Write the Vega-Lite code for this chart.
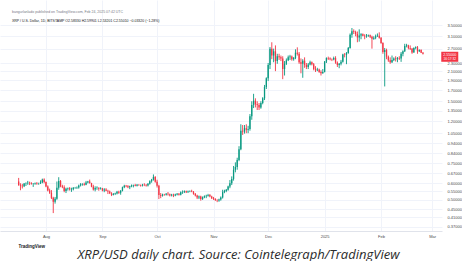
{
"$schema": "https://vega.github.io/schema/vega-lite/v6.json",
"width": 442, "height": 231, "padding": 0, "background": "white",
"config": {"view": {"stroke": null}, "font": "Liberation Sans"},
"title": {"text": "bangurlanlado published on TradingView.com, Feb 24, 2025 07:42 UTC", "subtitle": "XRP / U.S. Dollar, 1D, BITSTAMP   O2.58330  H2.59901  L2.53201  C2.55010  −0.03320 (−1.28%)", "anchor": "start", "orient": "top", "offset": -22, "dx": 12, "fontSize": 3.5, "subtitleFontSize": 3.5, "subtitlePadding": 5, "color": "#787b86", "subtitleColor": "#131722", "fontWeight": "normal", "font": "Liberation Sans", "subtitleFont": "Liberation Sans"},
"data": {"values": [
{"d":"2024-07-17","o":0.612,"h":0.637,"l":0.583,"c":0.588},
{"d":"2024-07-18","o":0.588,"h":0.600,"l":0.555,"c":0.584},
{"d":"2024-07-19","o":0.584,"h":0.596,"l":0.566,"c":0.580},
{"d":"2024-07-20","o":0.580,"h":0.601,"l":0.575,"c":0.598},
{"d":"2024-07-21","o":0.598,"h":0.606,"l":0.582,"c":0.600},
{"d":"2024-07-22","o":0.600,"h":0.616,"l":0.590,"c":0.604},
{"d":"2024-07-23","o":0.604,"h":0.611,"l":0.588,"c":0.601},
{"d":"2024-07-24","o":0.601,"h":0.607,"l":0.591,"c":0.597},
{"d":"2024-07-25","o":0.597,"h":0.601,"l":0.576,"c":0.598},
{"d":"2024-07-26","o":0.598,"h":0.605,"l":0.590,"c":0.601},
{"d":"2024-07-27","o":0.601,"h":0.608,"l":0.590,"c":0.598},
{"d":"2024-07-28","o":0.598,"h":0.604,"l":0.590,"c":0.599},
{"d":"2024-07-29","o":0.599,"h":0.620,"l":0.595,"c":0.606},
{"d":"2024-07-30","o":0.606,"h":0.632,"l":0.600,"c":0.626},
{"d":"2024-07-31","o":0.626,"h":0.634,"l":0.600,"c":0.608},
{"d":"2024-08-01","o":0.608,"h":0.612,"l":0.574,"c":0.578},
{"d":"2024-08-02","o":0.578,"h":0.586,"l":0.548,"c":0.554},
{"d":"2024-08-03","o":0.554,"h":0.565,"l":0.533,"c":0.540},
{"d":"2024-08-04","o":0.540,"h":0.556,"l":0.503,"c":0.510},
{"d":"2024-08-05","o":0.510,"h":0.516,"l":0.430,"c":0.488},
{"d":"2024-08-06","o":0.488,"h":0.515,"l":0.478,"c":0.505},
{"d":"2024-08-07","o":0.505,"h":0.612,"l":0.499,"c":0.570},
{"d":"2024-08-08","o":0.570,"h":0.642,"l":0.558,"c":0.616},
{"d":"2024-08-09","o":0.616,"h":0.622,"l":0.574,"c":0.580},
{"d":"2024-08-10","o":0.580,"h":0.590,"l":0.568,"c":0.574},
{"d":"2024-08-11","o":0.574,"h":0.586,"l":0.543,"c":0.550},
{"d":"2024-08-12","o":0.550,"h":0.571,"l":0.538,"c":0.565},
{"d":"2024-08-13","o":0.565,"h":0.572,"l":0.553,"c":0.568},
{"d":"2024-08-14","o":0.568,"h":0.575,"l":0.553,"c":0.560},
{"d":"2024-08-15","o":0.560,"h":0.571,"l":0.545,"c":0.561},
{"d":"2024-08-16","o":0.561,"h":0.575,"l":0.554,"c":0.570},
{"d":"2024-08-17","o":0.570,"h":0.576,"l":0.564,"c":0.571},
{"d":"2024-08-18","o":0.571,"h":0.579,"l":0.563,"c":0.572},
{"d":"2024-08-19","o":0.572,"h":0.591,"l":0.565,"c":0.586},
{"d":"2024-08-20","o":0.586,"h":0.601,"l":0.579,"c":0.593},
{"d":"2024-08-21","o":0.593,"h":0.600,"l":0.584,"c":0.595},
{"d":"2024-08-22","o":0.595,"h":0.604,"l":0.584,"c":0.590},
{"d":"2024-08-23","o":0.590,"h":0.616,"l":0.587,"c":0.606},
{"d":"2024-08-24","o":0.606,"h":0.616,"l":0.599,"c":0.612},
{"d":"2024-08-25","o":0.612,"h":0.625,"l":0.597,"c":0.601},
{"d":"2024-08-26","o":0.601,"h":0.603,"l":0.574,"c":0.578},
{"d":"2024-08-27","o":0.578,"h":0.590,"l":0.553,"c":0.560},
{"d":"2024-08-28","o":0.560,"h":0.580,"l":0.548,"c":0.569},
{"d":"2024-08-29","o":0.569,"h":0.580,"l":0.558,"c":0.571},
{"d":"2024-08-30","o":0.571,"h":0.573,"l":0.552,"c":0.564},
{"d":"2024-08-31","o":0.564,"h":0.574,"l":0.559,"c":0.567},
{"d":"2024-09-01","o":0.567,"h":0.570,"l":0.548,"c":0.553},
{"d":"2024-09-02","o":0.553,"h":0.568,"l":0.543,"c":0.560},
{"d":"2024-09-03","o":0.560,"h":0.568,"l":0.549,"c":0.552},
{"d":"2024-09-04","o":0.552,"h":0.558,"l":0.532,"c":0.548},
{"d":"2024-09-05","o":0.548,"h":0.553,"l":0.532,"c":0.536},
{"d":"2024-09-06","o":0.536,"h":0.543,"l":0.520,"c":0.527},
{"d":"2024-09-07","o":0.527,"h":0.538,"l":0.524,"c":0.532},
{"d":"2024-09-08","o":0.532,"h":0.540,"l":0.526,"c":0.535},
{"d":"2024-09-09","o":0.535,"h":0.551,"l":0.530,"c":0.546},
{"d":"2024-09-10","o":0.546,"h":0.552,"l":0.533,"c":0.540},
{"d":"2024-09-11","o":0.540,"h":0.556,"l":0.528,"c":0.552},
{"d":"2024-09-12","o":0.552,"h":0.578,"l":0.548,"c":0.574},
{"d":"2024-09-13","o":0.574,"h":0.590,"l":0.568,"c":0.584},
{"d":"2024-09-14","o":0.584,"h":0.589,"l":0.574,"c":0.580},
{"d":"2024-09-15","o":0.580,"h":0.588,"l":0.568,"c":0.574},
{"d":"2024-09-16","o":0.574,"h":0.584,"l":0.562,"c":0.580},
{"d":"2024-09-17","o":0.580,"h":0.592,"l":0.574,"c":0.586},
{"d":"2024-09-18","o":0.586,"h":0.591,"l":0.573,"c":0.588},
{"d":"2024-09-19","o":0.588,"h":0.596,"l":0.580,"c":0.584},
{"d":"2024-09-20","o":0.584,"h":0.595,"l":0.579,"c":0.590},
{"d":"2024-09-21","o":0.590,"h":0.593,"l":0.583,"c":0.588},
{"d":"2024-09-22","o":0.588,"h":0.592,"l":0.578,"c":0.585},
{"d":"2024-09-23","o":0.585,"h":0.596,"l":0.579,"c":0.590},
{"d":"2024-09-24","o":0.590,"h":0.600,"l":0.581,"c":0.588},
{"d":"2024-09-25","o":0.588,"h":0.595,"l":0.578,"c":0.585},
{"d":"2024-09-26","o":0.585,"h":0.601,"l":0.579,"c":0.596},
{"d":"2024-09-27","o":0.596,"h":0.620,"l":0.591,"c":0.614},
{"d":"2024-09-28","o":0.614,"h":0.630,"l":0.604,"c":0.625},
{"d":"2024-09-29","o":0.625,"h":0.662,"l":0.618,"c":0.644},
{"d":"2024-09-30","o":0.644,"h":0.650,"l":0.604,"c":0.610},
{"d":"2024-10-01","o":0.610,"h":0.624,"l":0.572,"c":0.584},
{"d":"2024-10-02","o":0.584,"h":0.590,"l":0.503,"c":0.527},
{"d":"2024-10-03","o":0.527,"h":0.538,"l":0.508,"c":0.522},
{"d":"2024-10-04","o":0.522,"h":0.534,"l":0.517,"c":0.529},
{"d":"2024-10-05","o":0.529,"h":0.533,"l":0.522,"c":0.528},
{"d":"2024-10-06","o":0.528,"h":0.538,"l":0.523,"c":0.534},
{"d":"2024-10-07","o":0.534,"h":0.544,"l":0.523,"c":0.530},
{"d":"2024-10-08","o":0.530,"h":0.535,"l":0.518,"c":0.524},
{"d":"2024-10-09","o":0.524,"h":0.533,"l":0.518,"c":0.528},
{"d":"2024-10-10","o":0.528,"h":0.534,"l":0.514,"c":0.523},
{"d":"2024-10-11","o":0.523,"h":0.534,"l":0.519,"c":0.529},
{"d":"2024-10-12","o":0.529,"h":0.538,"l":0.524,"c":0.533},
{"d":"2024-10-13","o":0.533,"h":0.538,"l":0.523,"c":0.528},
{"d":"2024-10-14","o":0.528,"h":0.548,"l":0.524,"c":0.543},
{"d":"2024-10-15","o":0.543,"h":0.554,"l":0.533,"c":0.544},
{"d":"2024-10-16","o":0.544,"h":0.554,"l":0.538,"c":0.549},
{"d":"2024-10-17","o":0.549,"h":0.553,"l":0.538,"c":0.543},
{"d":"2024-10-18","o":0.543,"h":0.553,"l":0.539,"c":0.548},
{"d":"2024-10-19","o":0.548,"h":0.554,"l":0.543,"c":0.549},
{"d":"2024-10-20","o":0.549,"h":0.558,"l":0.543,"c":0.546},
{"d":"2024-10-21","o":0.546,"h":0.550,"l":0.528,"c":0.533},
{"d":"2024-10-22","o":0.533,"h":0.538,"l":0.518,"c":0.523},
{"d":"2024-10-23","o":0.523,"h":0.528,"l":0.503,"c":0.512},
{"d":"2024-10-24","o":0.512,"h":0.523,"l":0.503,"c":0.518},
{"d":"2024-10-25","o":0.518,"h":0.522,"l":0.494,"c":0.503},
{"d":"2024-10-26","o":0.503,"h":0.518,"l":0.498,"c":0.513},
{"d":"2024-10-27","o":0.513,"h":0.524,"l":0.508,"c":0.519},
{"d":"2024-10-28","o":0.519,"h":0.528,"l":0.508,"c":0.522},
{"d":"2024-10-29","o":0.522,"h":0.533,"l":0.517,"c":0.526},
{"d":"2024-10-30","o":0.526,"h":0.532,"l":0.513,"c":0.518},
{"d":"2024-10-31","o":0.518,"h":0.522,"l":0.503,"c":0.508},
{"d":"2024-11-01","o":0.508,"h":0.515,"l":0.498,"c":0.503},
{"d":"2024-11-02","o":0.503,"h":0.508,"l":0.493,"c":0.497},
{"d":"2024-11-03","o":0.497,"h":0.502,"l":0.486,"c":0.495},
{"d":"2024-11-04","o":0.495,"h":0.505,"l":0.488,"c":0.500},
{"d":"2024-11-05","o":0.500,"h":0.518,"l":0.494,"c":0.512},
{"d":"2024-11-06","o":0.512,"h":0.558,"l":0.506,"c":0.543},
{"d":"2024-11-07","o":0.543,"h":0.558,"l":0.537,"c":0.551},
{"d":"2024-11-08","o":0.551,"h":0.563,"l":0.543,"c":0.558},
{"d":"2024-11-09","o":0.558,"h":0.584,"l":0.552,"c":0.578},
{"d":"2024-11-10","o":0.578,"h":0.622,"l":0.568,"c":0.600},
{"d":"2024-11-11","o":0.600,"h":0.648,"l":0.588,"c":0.630},
{"d":"2024-11-12","o":0.630,"h":0.728,"l":0.618,"c":0.698},
{"d":"2024-11-13","o":0.698,"h":0.758,"l":0.678,"c":0.720},
{"d":"2024-11-14","o":0.720,"h":0.798,"l":0.698,"c":0.778},
{"d":"2024-11-15","o":0.778,"h":0.908,"l":0.768,"c":0.878},
{"d":"2024-11-16","o":0.878,"h":1.160,"l":0.868,"c":1.080},
{"d":"2024-11-17","o":1.080,"h":1.150,"l":1.030,"c":1.070},
{"d":"2024-11-18","o":1.070,"h":1.150,"l":1.045,"c":1.110},
{"d":"2024-11-19","o":1.110,"h":1.160,"l":1.050,"c":1.090},
{"d":"2024-11-20","o":1.090,"h":1.140,"l":1.050,"c":1.100},
{"d":"2024-11-21","o":1.100,"h":1.300,"l":1.080,"c":1.270},
{"d":"2024-11-22","o":1.270,"h":1.500,"l":1.220,"c":1.440},
{"d":"2024-11-23","o":1.440,"h":1.630,"l":1.390,"c":1.510},
{"d":"2024-11-24","o":1.510,"h":1.550,"l":1.400,"c":1.450},
{"d":"2024-11-25","o":1.450,"h":1.500,"l":1.360,"c":1.440},
{"d":"2024-11-26","o":1.440,"h":1.470,"l":1.360,"c":1.400},
{"d":"2024-11-27","o":1.400,"h":1.500,"l":1.380,"c":1.470},
{"d":"2024-11-28","o":1.470,"h":1.570,"l":1.450,"c":1.550},
{"d":"2024-11-29","o":1.550,"h":1.800,"l":1.520,"c":1.760},
{"d":"2024-11-30","o":1.760,"h":1.960,"l":1.720,"c":1.940},
{"d":"2024-12-01","o":1.940,"h":2.300,"l":1.880,"c":2.250},
{"d":"2024-12-02","o":2.250,"h":2.750,"l":2.150,"c":2.700},
{"d":"2024-12-03","o":2.700,"h":2.900,"l":2.400,"c":2.500},
{"d":"2024-12-04","o":2.500,"h":2.700,"l":2.320,"c":2.620},
{"d":"2024-12-05","o":2.620,"h":2.800,"l":2.100,"c":2.350},
{"d":"2024-12-06","o":2.350,"h":2.550,"l":2.280,"c":2.480},
{"d":"2024-12-07","o":2.480,"h":2.550,"l":2.380,"c":2.450},
{"d":"2024-12-08","o":2.450,"h":2.500,"l":2.350,"c":2.420},
{"d":"2024-12-09","o":2.420,"h":2.480,"l":1.920,"c":2.150},
{"d":"2024-12-10","o":2.150,"h":2.350,"l":2.000,"c":2.280},
{"d":"2024-12-11","o":2.280,"h":2.420,"l":2.250,"c":2.370},
{"d":"2024-12-12","o":2.370,"h":2.500,"l":2.350,"c":2.450},
{"d":"2024-12-13","o":2.450,"h":2.520,"l":2.380,"c":2.470},
{"d":"2024-12-14","o":2.470,"h":2.500,"l":2.360,"c":2.400},
{"d":"2024-12-15","o":2.400,"h":2.460,"l":2.360,"c":2.430},
{"d":"2024-12-16","o":2.430,"h":2.680,"l":2.400,"c":2.580},
{"d":"2024-12-17","o":2.580,"h":2.740,"l":2.500,"c":2.550},
{"d":"2024-12-18","o":2.550,"h":2.600,"l":2.280,"c":2.320},
{"d":"2024-12-19","o":2.320,"h":2.420,"l":2.050,"c":2.280},
{"d":"2024-12-20","o":2.280,"h":2.400,"l":1.950,"c":2.360},
{"d":"2024-12-21","o":2.360,"h":2.450,"l":2.180,"c":2.250},
{"d":"2024-12-22","o":2.250,"h":2.300,"l":2.150,"c":2.200},
{"d":"2024-12-23","o":2.200,"h":2.300,"l":2.150,"c":2.260},
{"d":"2024-12-24","o":2.260,"h":2.360,"l":2.240,"c":2.320},
{"d":"2024-12-25","o":2.320,"h":2.340,"l":2.240,"c":2.270},
{"d":"2024-12-26","o":2.270,"h":2.300,"l":2.120,"c":2.150},
{"d":"2024-12-27","o":2.150,"h":2.220,"l":2.080,"c":2.120},
{"d":"2024-12-28","o":2.120,"h":2.180,"l":2.100,"c":2.140},
{"d":"2024-12-29","o":2.140,"h":2.160,"l":2.060,"c":2.080},
{"d":"2024-12-30","o":2.080,"h":2.120,"l":2.000,"c":2.050},
{"d":"2024-12-31","o":2.050,"h":2.150,"l":2.040,"c":2.080},
{"d":"2025-01-01","o":2.080,"h":2.350,"l":2.070,"c":2.340},
{"d":"2025-01-02","o":2.340,"h":2.450,"l":2.300,"c":2.430},
{"d":"2025-01-03","o":2.430,"h":2.470,"l":2.380,"c":2.420},
{"d":"2025-01-04","o":2.420,"h":2.450,"l":2.370,"c":2.400},
{"d":"2025-01-05","o":2.400,"h":2.420,"l":2.350,"c":2.390},
{"d":"2025-01-06","o":2.390,"h":2.470,"l":2.370,"c":2.430},
{"d":"2025-01-07","o":2.430,"h":2.480,"l":2.280,"c":2.310},
{"d":"2025-01-08","o":2.310,"h":2.340,"l":2.200,"c":2.250},
{"d":"2025-01-09","o":2.250,"h":2.300,"l":2.170,"c":2.280},
{"d":"2025-01-10","o":2.280,"h":2.380,"l":2.240,"c":2.330},
{"d":"2025-01-11","o":2.330,"h":2.550,"l":2.310,"c":2.530},
{"d":"2025-01-12","o":2.530,"h":2.570,"l":2.450,"c":2.520},
{"d":"2025-01-13","o":2.520,"h":2.600,"l":2.270,"c":2.570},
{"d":"2025-01-14","o":2.570,"h":2.750,"l":2.550,"c":2.720},
{"d":"2025-01-15","o":2.720,"h":3.200,"l":2.700,"c":3.150},
{"d":"2025-01-16","o":3.150,"h":3.400,"l":3.050,"c":3.280},
{"d":"2025-01-17","o":3.280,"h":3.350,"l":3.180,"c":3.250},
{"d":"2025-01-18","o":3.250,"h":3.300,"l":3.100,"c":3.180},
{"d":"2025-01-19","o":3.180,"h":3.270,"l":2.900,"c":3.060},
{"d":"2025-01-20","o":3.060,"h":3.350,"l":2.920,"c":3.130},
{"d":"2025-01-21","o":3.130,"h":3.210,"l":3.000,"c":3.170},
{"d":"2025-01-22","o":3.170,"h":3.200,"l":3.100,"c":3.120},
{"d":"2025-01-23","o":3.120,"h":3.170,"l":3.000,"c":3.100},
{"d":"2025-01-24","o":3.100,"h":3.180,"l":3.050,"c":3.120},
{"d":"2025-01-25","o":3.120,"h":3.160,"l":3.080,"c":3.140},
{"d":"2025-01-26","o":3.140,"h":3.160,"l":3.040,"c":3.080},
{"d":"2025-01-27","o":3.080,"h":3.120,"l":2.700,"c":3.020},
{"d":"2025-01-28","o":3.020,"h":3.100,"l":2.980,"c":3.050},
{"d":"2025-01-29","o":3.050,"h":3.160,"l":3.000,"c":3.100},
{"d":"2025-01-30","o":3.100,"h":3.200,"l":3.080,"c":3.120},
{"d":"2025-01-31","o":3.120,"h":3.240,"l":3.020,"c":3.050},
{"d":"2025-02-01","o":3.050,"h":3.070,"l":2.850,"c":2.880},
{"d":"2025-02-02","o":2.880,"h":2.900,"l":2.550,"c":2.600},
{"d":"2025-02-03","o":2.600,"h":2.720,"l":1.770,"c":2.660},
{"d":"2025-02-04","o":2.660,"h":2.700,"l":2.400,"c":2.470},
{"d":"2025-02-05","o":2.470,"h":2.500,"l":2.330,"c":2.370},
{"d":"2025-02-06","o":2.370,"h":2.450,"l":2.280,"c":2.320},
{"d":"2025-02-07","o":2.320,"h":2.500,"l":2.300,"c":2.380},
{"d":"2025-02-08","o":2.380,"h":2.450,"l":2.350,"c":2.420},
{"d":"2025-02-09","o":2.420,"h":2.480,"l":2.340,"c":2.400},
{"d":"2025-02-10","o":2.400,"h":2.460,"l":2.320,"c":2.430},
{"d":"2025-02-11","o":2.430,"h":2.480,"l":2.380,"c":2.420},
{"d":"2025-02-12","o":2.420,"h":2.600,"l":2.330,"c":2.550},
{"d":"2025-02-13","o":2.550,"h":2.650,"l":2.480,"c":2.620},
{"d":"2025-02-14","o":2.620,"h":2.850,"l":2.600,"c":2.780},
{"d":"2025-02-15","o":2.780,"h":2.850,"l":2.740,"c":2.800},
{"d":"2025-02-16","o":2.800,"h":2.820,"l":2.680,"c":2.720},
{"d":"2025-02-17","o":2.720,"h":2.800,"l":2.660,"c":2.700},
{"d":"2025-02-18","o":2.700,"h":2.720,"l":2.550,"c":2.590},
{"d":"2025-02-19","o":2.590,"h":2.740,"l":2.580,"c":2.720},
{"d":"2025-02-20","o":2.720,"h":2.770,"l":2.680,"c":2.740},
{"d":"2025-02-21","o":2.740,"h":2.780,"l":2.550,"c":2.620},
{"d":"2025-02-22","o":2.620,"h":2.680,"l":2.600,"c":2.660},
{"d":"2025-02-23","o":2.660,"h":2.680,"l":2.570,"c":2.580},
{"d":"2025-02-24","o":2.580,"h":2.600,"l":2.530,"c":2.550}
]},
"encoding": {
  "x": {"field": "d", "type": "temporal",
    "scale": {"type": "utc", "domain": [{"year": 2024, "month": 7, "date": 9, "hours": 12, "utc": true}, {"year": 2025, "month": 3, "date": 3, "hours": 17, "utc": true}]},
    "axis": {"orient": "bottom", "tickCount": {"interval": "month", "step": 1},
      "labelExpr": "utcmonth(datum.value) == 0 ? utcFormat(datum.value, '%Y') : utcFormat(datum.value, '%b')",
      "labelFontSize": 4, "labelColor": "#4a4a4a", "labelFont": "Liberation Sans", "labelFlush": false, "labelPadding": 3,
      "ticks": false, "domain": true, "domainColor": "#e0e3eb", "grid": true, "gridColor": "#f0f3fa",
      "title": "XRP/USD daily chart. Source: Cointelegraph/TradingView", "titleFont": "Open Sans", "titleFontStyle": "italic", "titleFontWeight": "normal", "titleFontSize": 13, "titleColor": "#2b2b2b",
      "titleX": 238, "titleY": 27, "titleAnchor": "middle", "titleAlign": "center", "titleBaseline": "alphabetic"}},
  "y": {"field": "l", "type": "quantitative",
    "scale": {"type": "log", "domain": [0.352, 4.65], "nice": false, "zero": false},
    "axis": {"orient": "right", "values": [3.5, 3.1, 2.7, 2.3, 2.1, 1.9, 1.7, 1.5, 1.35, 1.2, 1.05, 0.94, 0.84, 0.75, 0.67, 0.6, 0.55, 0.5, 0.45, 0.41, 0.37],
      "format": ".5f", "labelFontSize": 4, "labelColor": "#4a4a4a", "labelFont": "Liberation Sans", "labelPadding": 5,
      "ticks": false, "domain": false, "grid": true, "gridColor": "#f0f3fa",
      "title": "TradingView", "titleAngle": 0, "titleX": -424, "titleY": 246, "titleAlign": "left", "titleBaseline": "middle",
      "titleFontSize": 4.5, "titleFontWeight": "bold", "titleColor": "#131722", "titleFont": "Liberation Sans"}}
},
"layer": [
  {"mark": {"type": "rule", "strokeWidth": 0.9},
   "encoding": {
     "y2": {"field": "h"},
     "color": {"condition": {"test": "datum.c >= datum.o", "value": "#089981"}, "value": "#f23645"}}},
  {"mark": {"type": "bar", "size": 1.3},
   "encoding": {
     "y": {"field": "o", "type": "quantitative", "title": "TradingView"},
     "y2": {"field": "c"},
     "color": {"condition": {"test": "datum.c >= datum.o", "value": "#089981"}, "value": "#f23645"}}},
  {"transform": [{"filter": "utcyear(datum.d) == 2025 && utcmonth(datum.d) == 1 && utcdate(datum.d) == 24"}],
   "mark": {"type": "point", "shape": "M 1.83,-0.2 L 3.53,-0.2 L 3.53,0.8 L 1.83,0.8 Z", "size": 400, "filled": true, "color": "#f23645", "opacity": 1, "strokeWidth": 0},
   "encoding": {"y": {"field": "c", "type": "quantitative", "title": "TradingView"}}},
  {"transform": [{"filter": "utcyear(datum.d) == 2025 && utcmonth(datum.d) == 1 && utcdate(datum.d) == 24"}],
   "mark": {"type": "text", "dx": 26.8, "dy": 1.2, "fontSize": 3.6, "color": "white", "align": "center", "baseline": "middle", "font": "Liberation Sans"},
   "encoding": {"y": {"field": "c", "type": "quantitative", "title": "TradingView"}, "text": {"field": "c", "type": "quantitative", "format": ".5f"}}},
  {"transform": [{"filter": "utcyear(datum.d) == 2025 && utcmonth(datum.d) == 1 && utcdate(datum.d) == 24"}],
   "mark": {"type": "text", "dx": 26.8, "dy": 5.4, "fontSize": 3.2, "color": "white", "align": "center", "baseline": "middle", "font": "Liberation Sans", "text": "16:17:32"},
   "encoding": {"y": {"field": "c", "type": "quantitative", "title": "TradingView"}}}
]
}
